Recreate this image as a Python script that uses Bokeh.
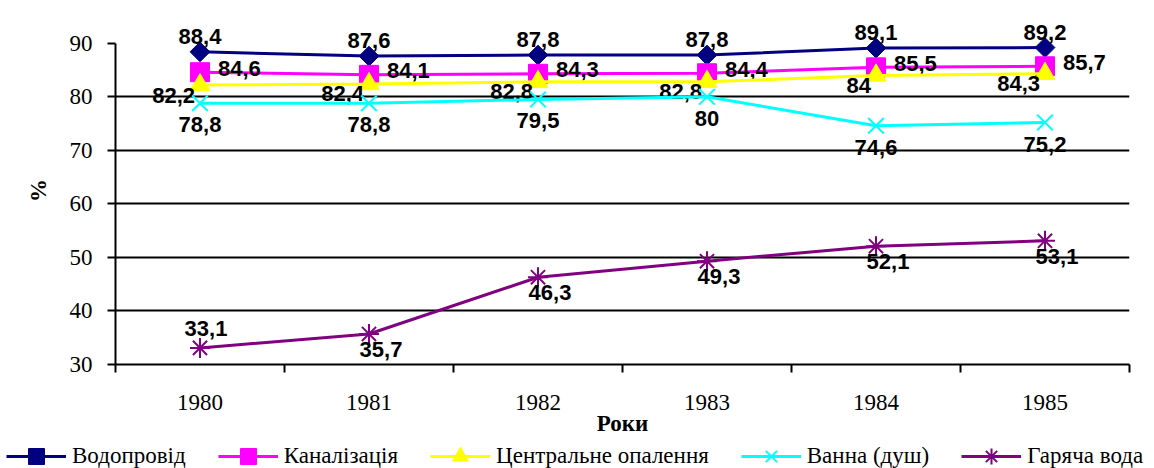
from bokeh.plotting import figure
from bokeh.models import (ColumnDataSource, FixedTicker, Legend, LegendItem, Range1d)
from bokeh.layouts import column
from bokeh.core.properties import value
from bokeh.embed import file_html
from bokeh.resources import INLINE
import math

years = ["1980", "1981", "1982", "1983", "1984", "1985"]
water_supply = [88.4, 87.6, 87.8, 87.8, 89.1, 89.2]
sewerage = [84.6, 84.1, 84.3, 84.4, 85.5, 85.7]
central_heating = [82.2, 82.4, 82.8, 82.8, 84.0, 84.3]
bath = [78.8, 78.8, 79.5, 80.0, 74.6, 75.2]
hot_water = [33.1, 35.7, 46.3, 49.3, 52.1, 53.1]

series_names = ["Водопровід", "Каналізація", "Центральне опалення", "Ванна (душ)", "Гаряча вода"]
y_ticks = [30, 40, 50, 60, 70, 80, 90]

def fmt(v):
    s = ("%.1f" % v)
    if s.endswith(".0"):
        s = s[:-2]
    return s.replace(".", ",")

xs = [i + 0.5 for i in range(len(years))]

SERIF = "Liberation Serif"
SANS = "Liberation Sans"

p = figure(width=1154, height=438, output_backend="svg", toolbar_location=None,
           x_range=Range1d(0, len(years)), y_range=Range1d(30, 95),
           min_border_left=115, min_border_right=25, min_border_top=16, min_border_bottom=74)
p.outline_line_color = None
p.background_fill_color = "white"
p.border_fill_color = "white"

# x axis: labels at category centres, tick marks between categories
p.xaxis.ticker = FixedTicker(ticks=xs, minor_ticks=list(range(0, len(years) + 1)))
p.xaxis.major_label_overrides = {x: y for x, y in zip(xs, years)}
p.xaxis.major_tick_out = 0
p.xaxis.major_tick_in = 0
p.xaxis.minor_tick_out = 8
p.xaxis.minor_tick_in = 0
p.xaxis.minor_tick_line_color = "black"
p.xaxis.minor_tick_line_width = 2
p.xaxis.axis_line_width = 2
p.xaxis.axis_line_color = "black"
p.xaxis.major_label_standoff = 22
p.xaxis.major_label_text_font = SERIF
p.xaxis.major_label_text_font_size = "23px"
p.xaxis.major_label_text_color = "black"
p.xaxis.axis_label = "Роки"
p.xaxis.axis_label_text_font = SERIF
p.xaxis.axis_label_text_font_style = "bold"
p.xaxis.axis_label_text_font_size = "23px"
p.xaxis.axis_label_standoff = -2
p.xaxis.axis_label_text_color = "black"

p.yaxis.ticker = FixedTicker(ticks=y_ticks, minor_ticks=[])
p.yaxis.bounds = (30, 90)
p.yaxis.major_tick_out = 8
p.yaxis.major_tick_in = 0
p.yaxis.major_tick_line_width = 2
p.yaxis.axis_line_width = 2
p.yaxis.axis_line_color = "black"
p.yaxis.major_label_standoff = 15
p.yaxis.major_label_text_font = SERIF
p.yaxis.major_label_text_font_size = "23px"
p.yaxis.major_label_text_color = "black"
p.yaxis.axis_label = "%"
p.yaxis.axis_label_text_font = SERIF
p.yaxis.axis_label_text_font_style = "bold"
p.yaxis.axis_label_text_font_size = "23px"
p.yaxis.axis_label_standoff = 16
p.yaxis.axis_label_text_color = "black"

p.xgrid.visible = False
p.ygrid.ticker = FixedTicker(ticks=y_ticks[1:-1], minor_ticks=[])
p.ygrid.grid_line_color = "black"
p.ygrid.grid_line_width = 2

colors = ["#000080", "#FF00FF", "#FFFF00", "#00FFFF", "#800080"]
markers = ["square", "square", "triangle", "x", "asterisk"]
sizes = [14, 19, 20, 22, 20]
angles = [math.pi / 4, 0, 0, 0, 0]
all_series = [water_supply, sewerage, central_heating, bath, hot_water]

# label styles per series: (x_offset, y_offset, align, baseline)
label_style = [
    (0, -8, "center", "bottom"),
    (18, -4, "left", "middle"),
    (-5, 10, "right", "middle"),
    (0, 14, "center", "top"),
    (12, 8, "center", "top"),
]
hot_label_above = [True, False, False, False, False, False]

def draw_marker(fig, src, k):
    if markers[k] in ("x", "asterisk"):
        return fig.scatter("x", "y", source=src, marker=markers[k], size=sizes[k],
                           line_color=colors[k], line_width=2, fill_color=None)
    return fig.scatter("x", "y", source=src, marker=markers[k], size=sizes[k], angle=angles[k],
                       line_color=colors[k], fill_color=colors[k], line_width=1)

sources = []
for k, vals in enumerate(all_series):
    src = ColumnDataSource(dict(x=xs, y=vals, lbl=[fmt(v) for v in vals]))
    sources.append(src)
    p.line("x", "y", source=src, line_color=colors[k], line_width=3)
    draw_marker(p, src, k)

    xo, yo, al, bl = label_style[k]
    if k == 4:
        xoffs = [6 if a else xo for a in hot_label_above]
        yoffs = [-12 if a else yo for a in hot_label_above]
        bls = ["bottom" if a else bl for a in hot_label_above]
        src2 = ColumnDataSource(dict(x=xs, y=vals, lbl=[fmt(v) for v in vals],
                                     xo=xoffs, yo=yoffs, bl=bls))
        p.text("x", "y", text="lbl", source=src2, x_offset="xo", y_offset="yo",
               text_align=al, text_baseline="bl",
               text_font=value(SANS), text_font_style="bold",
               text_font_size="22px", text_color="black")
    else:
        p.text("x", "y", text="lbl", source=src, x_offset=xo, y_offset=yo,
               text_align=al, text_baseline=bl,
               text_font=value(SANS), text_font_style="bold",
               text_font_size="22px", text_color="black")

# legend strip below the chart (series lie outside its view so only the legend shows)
lg = figure(width=1154, height=30, output_backend="svg", toolbar_location=None,
            x_range=Range1d(0, 1154), y_range=Range1d(-1000, -970),
            x_axis_location=None, y_axis_location=None,
            min_border_left=0, min_border_right=0, min_border_top=0, min_border_bottom=0)
lg.outline_line_color = None
lg.grid.visible = False
lg.border_fill_color = "white"
lg.background_fill_color = "white"

items = []
for k, name in enumerate(series_names):
    lr = lg.line("x", "y", source=sources[k], line_color=colors[k], line_width=3)
    sr = draw_marker(lg, sources[k], k)
    items.append(LegendItem(label=name, renderers=[lr, sr]))

legend = Legend(items=items, orientation="horizontal", location=(6, -8),
                label_text_font=SERIF, label_text_font_size="23px",
                label_text_color="black", glyph_width=60, glyph_height=40,
                label_standoff=6, spacing=32, padding=0, margin=0,
                border_line_color=None, background_fill_alpha=0)
lg.add_layout(legend, "center")

layout = column(p, column(lg, spacing=0), spacing=0)
open("out.html", "w").write(file_html(layout, INLINE))
